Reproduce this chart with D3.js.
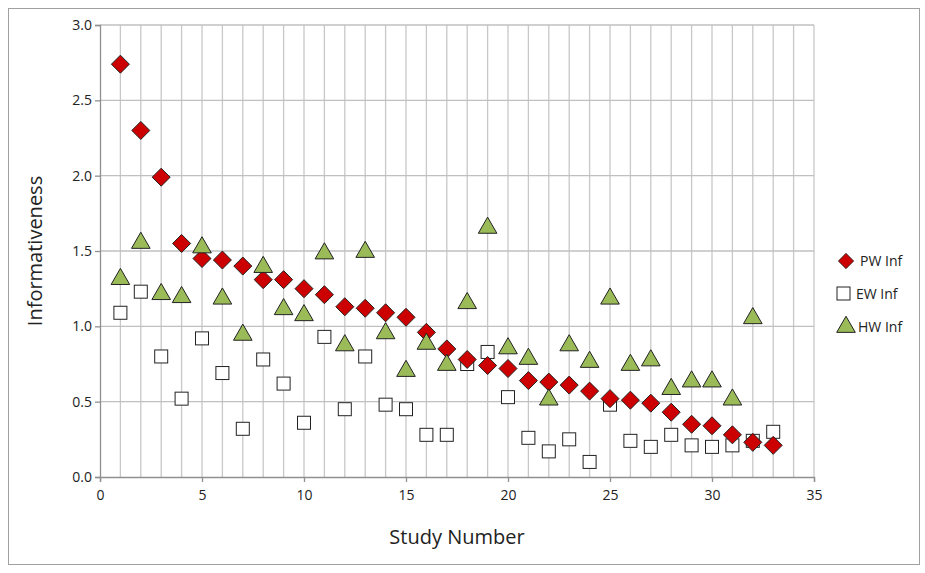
<!DOCTYPE html>
<html><head><meta charset="utf-8">
<script src="https://cdn.jsdelivr.net/npm/d3@7"></script>
<style>body{margin:0;background:#fff}text{font-family:"Open Sans",sans-serif}</style>
</head><body><svg id="chart" width="925" height="573"></svg>
<script>
var pwInf = [2.74,2.30,1.99,1.55,1.45,1.44,1.40,1.31,1.31,1.25,1.21,1.13,1.12,1.09,1.06,0.96,0.85,0.78,0.74,0.72,0.64,0.63,0.61,0.57,0.52,0.51,0.49,0.43,0.35,0.34,0.28,0.23,0.21];
var ewInf = [1.09,1.23,0.80,0.52,0.92,0.69,0.32,0.78,0.62,0.36,0.93,0.45,0.80,0.48,0.45,0.28,0.28,0.75,0.83,0.53,0.26,0.17,0.25,0.10,0.48,0.24,0.20,0.28,0.21,0.20,0.21,0.24,0.30];
var hwInf = [1.32,1.56,1.22,1.20,1.53,1.19,0.95,1.40,1.12,1.08,1.49,0.88,1.50,0.96,0.71,0.89,0.75,1.16,1.66,0.86,0.79,0.52,0.88,0.77,1.19,0.75,0.78,0.59,0.64,0.64,0.52,1.06];
var xTicks = [0,5,10,15,20,25,30,35];
var yTicks = [0,0.5,1,1.5,2,2.5,3];

var svg = d3.select('#chart');
svg.append('rect').attr('x',8.5).attr('y',8.5).attr('width',911).attr('height',556)
  .attr('fill','none').attr('stroke','#a0a0a0');

var pLeft = 100, pRight = 814, pTop = 25, pBottom = 477;
var x = d3.scaleLinear().domain([0,35]).range([pLeft,pRight]);
var y = d3.scaleLinear().domain([0,3]).range([pBottom,pTop]);

// gridlines
svg.append('g').selectAll('line').data(d3.range(1,36)).enter().append('line')
  .attr('x1',function(d){return x(d);}).attr('x2',function(d){return x(d);})
  .attr('y1',pTop).attr('y2',pBottom).attr('stroke','#c8c8c8').attr('stroke-width',1.3);
svg.append('g').selectAll('line').data(yTicks.slice(1)).enter().append('line')
  .attr('x1',pLeft).attr('x2',pRight)
  .attr('y1',function(d){return y(d);}).attr('y2',function(d){return y(d);})
  .attr('stroke','#c0c0c0').attr('stroke-width',1.3);

var xAxis = svg.append('g').attr('transform','translate(0,'+pBottom+')')
  .call(d3.axisBottom(x).tickValues(xTicks).tickSize(5).tickFormat(d3.format('d')));
var yAxis = svg.append('g').attr('transform','translate('+pLeft+',0)')
  .call(d3.axisLeft(y).tickValues(yTicks).tickSize(5).tickFormat(d3.format('.1f')));
[xAxis,yAxis].forEach(function(a){
  a.selectAll('path,line').attr('stroke','#909090').attr('stroke-width',1.3);
  a.selectAll('text').attr('font-size',14).attr('fill','#222').style('font-family','"Open Sans",sans-serif');
});
xAxis.selectAll('text').attr('dy','1.1em');

svg.append('text').attr('x',(pLeft+pRight)/2).attr('y',544).attr('text-anchor','middle')
  .attr('font-size',20).attr('fill','#222').text('Study Number');
svg.append('text').attr('transform','translate(42,'+((pTop+pBottom)/2)+') rotate(-90)')
  .attr('text-anchor','middle').attr('font-size',20).attr('fill','#222').text('Informativeness');

function idx(d,i){return x(i+1);}
var sq = 13, tri = d3.symbol().type(d3.symbolTriangle).size(150)();
var dia = 'M0,-9L9,0L0,9L-9,0Z';

svg.append('g').selectAll('rect').data(ewInf).enter().append('rect')
  .attr('x',function(d,i){return idx(d,i)-sq/2;}).attr('y',function(d){return y(d)-sq/2;})
  .attr('width',sq).attr('height',sq).attr('fill','#fff').attr('stroke','#222').attr('stroke-width',1);
svg.append('g').selectAll('path').data(pwInf).enter().append('path')
  .attr('d',dia).attr('transform',function(d,i){return 'translate('+idx(d,i)+','+y(d)+')';})
  .attr('fill','#cc0000').attr('stroke','#222').attr('stroke-width',1);
svg.append('g').selectAll('path').data(hwInf).enter().append('path')
  .attr('d',tri).attr('transform',function(d,i){return 'translate('+idx(d,i)+','+(y(d)+1)+')';})
  .attr('fill','#9bbb59').attr('stroke','#222').attr('stroke-width',1);

// legend
var lg = svg.append('g');
lg.append('path').attr('d',dia).attr('transform','translate(846,261) scale(0.85)').attr('fill','#cc0000').attr('stroke','#222');
lg.append('text').attr('x',860).attr('y',266).attr('font-size',14).attr('fill','#222').text('PW Inf');
lg.append('rect').attr('x',837).attr('y',287).attr('width',sq).attr('height',sq).attr('fill','#fff').attr('stroke','#222');
lg.append('text').attr('x',856).attr('y',299).attr('font-size',14).attr('fill','#222').text('EW Inf');
lg.append('path').attr('d',tri).attr('transform','translate(846,327)').attr('fill','#9bbb59').attr('stroke','#222');
lg.append('text').attr('x',858).attr('y',332).attr('font-size',14).attr('fill','#222').text('HW Inf');
</script></body></html>
